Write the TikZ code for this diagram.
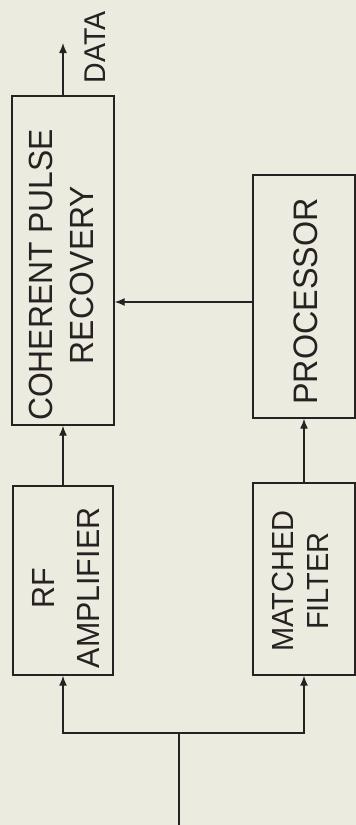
\documentclass[tikz,border=0pt]{standalone}
\usepackage{fontspec}
\usetikzlibrary{arrows.meta}
\newfontfamily\lblfont[FakeStretch=0.95]{Liberation Sans}

\definecolor{paper}{RGB}{236,235,224}
\definecolor{ink}{RGB}{40,33,34}

\tikzset{
  block/.style={draw=ink, line width=1.4pt, inner sep=0pt},
  wire/.style={draw=ink, line width=1.4pt},
  flow/.style={wire, -{Latex[length=10pt,width=8pt]}},
  lbl/.style={text=ink, rotate=90, align=center, inner sep=0pt, font=\lblfont},
}

\begin{document}
\begin{tikzpicture}[x=1pt, y=-1pt]
  % page and background
  \path[use as bounding box, fill=paper] (0,0) rectangle (356,825);

  % blocks
  \node[block, minimum width=102pt, minimum height=329pt] (cpr)  at (63,260.5) {};
  \node[block, minimum width=102pt, minimum height=243pt] (proc) at (304,296.5) {};
  \node[block, minimum width=100pt, minimum height=189pt] (rf)   at (63,580.5) {};
  \node[block, minimum width=102pt, minimum height=192pt] (mf)   at (304,579) {};

  % block labels, set sideways
  \node[lbl, font=\lblfont\fontsize{33.5}{41}\selectfont] (cprtxt) at (61,275) {COHERENT PULSE\\RECOVERY};
  \node[lbl, font=\lblfont\fontsize{34}{41}\selectfont] (proctxt) at (305.5,301.5) {PROCESSOR};
  \node[lbl, font=\lblfont\fontsize{32}{44.5}\selectfont] (rftxt) at (66,588) {RF\\AMPLIFIER};
  \node[lbl, font=\lblfont\fontsize{30.5}{35}\selectfont] (mftxt) at (300.5,581) {MATCHED\\FILTER};

  % output
  \coordinate (out) at (63,43);
  \draw[flow] (cpr.north) -- (out);
  \node[lbl, font=\lblfont\fontsize{30}{36}\selectfont] (datatxt) at (95,47.5) {DATA};

  % signal paths
  \draw[flow] (rf.north) -- (rf.north |- cpr.south);
  \draw[flow] (mf.north) -- (mf.north |- proc.south);
  \draw[flow] ([yshift=-5.5pt]proc.west) -- ([yshift=-5.5pt]proc.west -| cpr.east);

  % input and split
  \coordinate (in) at (179,825);
  \coordinate (split) at (179,733);
  \draw[wire] (in) -- (split);
  \draw[flow] (split) -| (rf.south);
  \draw[flow] (split) -| (mf.south);
\end{tikzpicture}
\end{document}
